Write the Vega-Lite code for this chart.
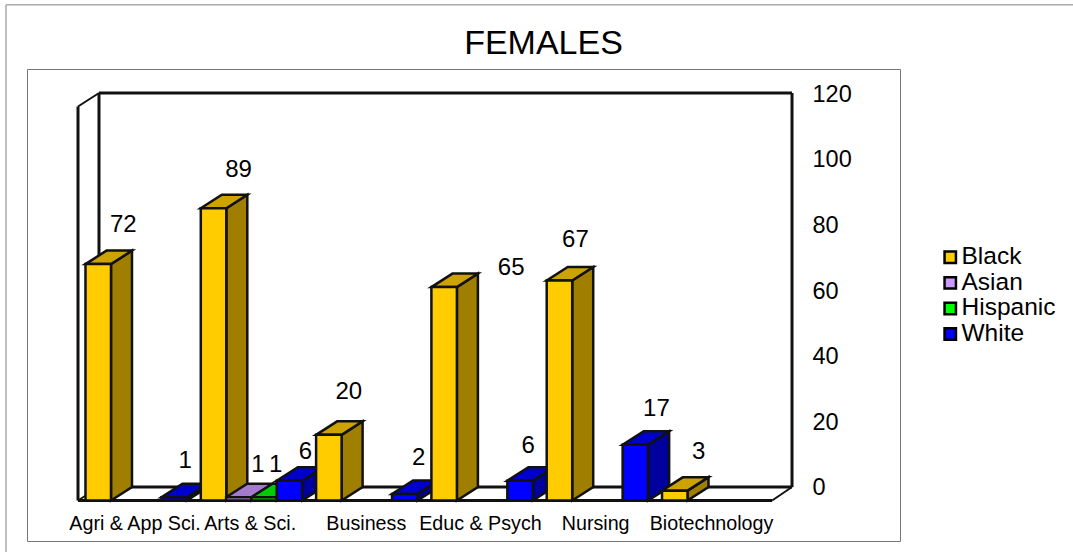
{
"$schema":"https://vega.github.io/schema/vega-lite/v6.json",
"width":873,"height":472,
"autosize":{"type":"none"},
"padding":{"left":27,"top":69,"right":173,"bottom":11},
"background":"white",
"view":{"stroke":"#777","strokeWidth":1,"fill":"white"},
"title":{"text":"FEMALES","fontSize":34,"font":"Liberation Sans","fontWeight":"normal","color":"#000","frame":"group","dx":80,"offset":-57},
"config":{"font":"Liberation Sans","axis":{"grid":false,"title":null}},
"datasets":{"bars":[
{"category":"Agri & App Sci.","series":"Black","value":72},
{"category":"Agri & App Sci.","series":"White","value":1},
{"category":"Arts & Sci.","series":"Black","value":89},
{"category":"Arts & Sci.","series":"Asian","value":1},
{"category":"Arts & Sci.","series":"Hispanic","value":1},
{"category":"Arts & Sci.","series":"White","value":6},
{"category":"Business","series":"Black","value":20},
{"category":"Business","series":"White","value":2},
{"category":"Educ & Psych","series":"Black","value":65},
{"category":"Educ & Psych","series":"White","value":6},
{"category":"Nursing","series":"Black","value":67},
{"category":"Nursing","series":"White","value":17},
{"category":"Biotechnology","series":"Black","value":3}
],"one":[{}]},
"layer":[
{"data":{"name":"one"},"mark":{"type":"rule","stroke":"#aaa","strokeWidth":1.5},"encoding":{
"x":{"datum":-0.6245,"type":"quantitative","scale":{"domain":[-0.4423,7.129]},"axis":{"orient":"bottom","offset":-28,"values":[0.49,1.489,2.496,3.486,4.485,5.49],"labelExpr":"['Agri & App Sci.','Arts & Sci.','Business','Educ & Psych','Nursing','Biotechnology'][floor(datum.value)]","labelFontSize":19.7,"labelColor":"#000","labelFont":"Liberation Sans","domain":false,"ticks":false,"labelAngle":0,"labelPadding":0,"labelOverlap":false,"labelFlush":false,"labelBound":false,"title":null}},
"x2":{"datum":8.63},
"y":{"datum":146.9,"type":"quantitative","scale":{"domain":[-16.45,127.32]},"axis":{"orient":"right","offset":-108,"values":[0,20,40,60,80,100,120],"labelFontSize":23.5,"labelColor":"#000","labelFont":"Liberation Sans","domain":false,"ticks":false,"labelPadding":20,"labelOffset":1,"title":null}},
"y2":{"datum":146.9}}},
{"data":{"name":"one"},"mark":{"type":"rule","stroke":"#aaa","strokeWidth":1.5},"encoding":{"x":{"datum":-0.6245,"type":"quantitative","scale":{"domain":[-0.4423,7.129]}},"x2":{"datum":-0.6245},"y":{"datum":146.9,"type":"quantitative","scale":{"domain":[-16.45,127.32]}},"y2":{"datum":-19.8}}},
{"data":{"name":"one"},"mark":{"type":"rule","stroke":"#111","strokeWidth":3},"encoding":{"x":{"datum":0.1821,"type":"quantitative","scale":{"domain":[-0.4423,7.129]}},"x2":{"datum":6.1925},"y":{"datum":120,"type":"quantitative","scale":{"domain":[-16.45,127.32]}},"y2":{"datum":120}}},
{"data":{"name":"one"},"mark":{"type":"rule","stroke":"#111","strokeWidth":3},"encoding":{"x":{"datum":6.1925,"type":"quantitative","scale":{"domain":[-0.4423,7.129]}},"x2":{"datum":6.1925},"y":{"datum":0,"type":"quantitative","scale":{"domain":[-16.45,127.32]}},"y2":{"datum":120}}},
{"data":{"name":"one"},"mark":{"type":"rule","stroke":"#111","strokeWidth":3},"encoding":{"x":{"datum":0.1821,"type":"quantitative","scale":{"domain":[-0.4423,7.129]}},"x2":{"datum":0.1821},"y":{"datum":0,"type":"quantitative","scale":{"domain":[-16.45,127.32]}},"y2":{"datum":120}}},
{"data":{"name":"one"},"mark":{"type":"rule","stroke":"#111","strokeWidth":3},"encoding":{"x":{"datum":0,"type":"quantitative","scale":{"domain":[-0.4423,7.129]}},"x2":{"datum":0},"y":{"datum":-4.11,"type":"quantitative","scale":{"domain":[-16.45,127.32]}},"y2":{"datum":115.89}}},
{"data":{"name":"one"},"mark":{"type":"rule","stroke":"#111","strokeWidth":2},"encoding":{"x":{"datum":0,"type":"quantitative","scale":{"domain":[-0.4423,7.129]}},"x2":{"datum":0.1821},"y":{"datum":115.89,"type":"quantitative","scale":{"domain":[-16.45,127.32]}},"y2":{"datum":120}}},
{"data":{"name":"one"},"mark":{"type":"rule","stroke":"#111","strokeWidth":3},"encoding":{"x":{"datum":0.1821,"type":"quantitative","scale":{"domain":[-0.4423,7.129]}},"x2":{"datum":6.1925},"y":{"datum":0,"type":"quantitative","scale":{"domain":[-16.45,127.32]}},"y2":{"datum":0}}},
{"data":{"name":"one"},"mark":{"type":"rule","stroke":"#111","strokeWidth":3},"encoding":{"x":{"datum":0,"type":"quantitative","scale":{"domain":[-0.4423,7.129]}},"x2":{"datum":6.02},"y":{"datum":-4.11,"type":"quantitative","scale":{"domain":[-16.45,127.32]}},"y2":{"datum":-4.11}}},
{"data":{"name":"one"},"mark":{"type":"rule","stroke":"#111","strokeWidth":2},"encoding":{"x":{"datum":6.02,"type":"quantitative","scale":{"domain":[-0.4423,7.129]}},"x2":{"datum":6.1925},"y":{"datum":-4.11,"type":"quantitative","scale":{"domain":[-16.45,127.32]}},"y2":{"datum":0}}},
{"data":{"name":"one"},"mark":{"type":"rule","stroke":"#111","strokeWidth":2},"encoding":{"x":{"datum":0,"type":"quantitative","scale":{"domain":[-0.4423,7.129]}},"x2":{"datum":0.1821},"y":{"datum":-4.11,"type":"quantitative","scale":{"domain":[-16.45,127.32]}},"y2":{"datum":0}}},
{"data":{"name":"bars"},
"transform":[
{"calculate":"indexof(['Agri & App Sci.','Arts & Sci.','Business','Educ & Psych','Nursing','Biotechnology'],datum.category)","as":"ci"},
{"calculate":"indexof(['Black','Asian','Hispanic','White'],datum.series)","as":"si"},
{"calculate":"datum.ci+0.065+datum.si*0.2195+0.2212","as":"xr"},
{"calculate":"[0,1]","as":"p"},{"flatten":["p"]},
{"calculate":"datum.xr+datum.p*0.1821","as":"xs"},
{"calculate":"-4.11+datum.p*4.11","as":"y0s"},
{"calculate":"datum.value-4.11+datum.p*4.11","as":"y1s"},
{"calculate":"datum.category+datum.series","as":"key"},
{"calculate":"{'Black':'#A07F00','Asian':'#7F5F9F','Hispanic':'#009F00','White':'#00009F'}[datum.series]","as":"faceColor"}
],
"mark":{"type":"area","stroke":"#111","strokeWidth":2.5,"strokeJoin":"miter","orient":"vertical"},
"encoding":{"x":{"field":"xs","type":"quantitative","scale":{"domain":[-0.4423,7.129]}},"y":{"field":"y1s","type":"quantitative","scale":{"domain":[-16.45,127.32]}},"y2":{"field":"y0s"},"detail":{"field":"key"},"fill":{"field":"faceColor","type":"nominal","scale":null,"legend":null}}},
{"data":{"name":"bars"},
"transform":[
{"calculate":"indexof(['Agri & App Sci.','Arts & Sci.','Business','Educ & Psych','Nursing','Biotechnology'],datum.category)","as":"ci"},
{"calculate":"indexof(['Black','Asian','Hispanic','White'],datum.series)","as":"si"},
{"calculate":"datum.ci+0.065+datum.si*0.2195","as":"xl"},
{"calculate":"[0,1]","as":"p"},{"flatten":["p"]},
{"calculate":"datum.xl+datum.p*0.1821","as":"xa"},
{"calculate":"datum.xl+0.2212+datum.p*0.1821","as":"xb"},
{"calculate":"datum.value-4.11+datum.p*4.11","as":"y1s"},
{"calculate":"datum.category+datum.series","as":"key"},
{"calculate":"{'Black':'#CCA300','Asian':'#A37ACC','Hispanic':'#00CC00','White':'#0000CC'}[datum.series]","as":"faceColor"}
],
"mark":{"type":"area","stroke":"#111","strokeWidth":2.5,"strokeJoin":"miter","orient":"horizontal"},
"encoding":{"y":{"field":"y1s","type":"quantitative","scale":{"domain":[-16.45,127.32]}},"x":{"field":"xa","type":"quantitative","scale":{"domain":[-0.4423,7.129]}},"x2":{"field":"xb"},"detail":{"field":"key"},"fill":{"field":"faceColor","type":"nominal","scale":null,"legend":null}}},
{"data":{"name":"bars"},
"transform":[
{"calculate":"indexof(['Agri & App Sci.','Arts & Sci.','Business','Educ & Psych','Nursing','Biotechnology'],datum.category)","as":"ci"},
{"calculate":"indexof(['Black','Asian','Hispanic','White'],datum.series)","as":"si"},
{"calculate":"datum.ci+0.065+datum.si*0.2195","as":"xl"},
{"calculate":"datum.xl+0.2212","as":"xr"},
{"calculate":"datum.value-4.11","as":"yt"},
{"calculate":"-4.11","as":"yb"}
],
"mark":{"type":"rect","stroke":"#111","strokeWidth":2.5},
"encoding":{
"x":{"field":"xl","type":"quantitative","scale":{"domain":[-0.4423,7.129]}},
"x2":{"field":"xr"},
"y":{"field":"yt","type":"quantitative","scale":{"domain":[-16.45,127.32]}},
"y2":{"field":"yb"},
"color":{"field":"series","type":"nominal","title":null,"scale":{"domain":["Black","Asian","Hispanic","White"],"range":["#FFCC00","#CC99FF","#00FF00","#0000FF"]},"legend":{"orient":"none","legendX":911,"legendY":176,"symbolType":"square","symbolSize":130,"symbolStrokeColor":"#000","symbolStrokeWidth":2.5,"labelFontSize":24.5,"labelColor":"#000","labelFont":"Liberation Sans","labelOffset":-1,"rowPadding":0.6,"labelLimit":200,"title":null}}
}},
{"data":{"name":"bars"},
"transform":[
{"calculate":"indexof(['Agri & App Sci.','Arts & Sci.','Business','Educ & Psych','Nursing','Biotechnology'],datum.category)","as":"ci"},
{"calculate":"indexof(['Black','Asian','Hispanic','White'],datum.series)","as":"si"},
{"calculate":"{'00':[4,-26.6],'03':[-10,-23.7],'10':[4,-26],'11':[-2,-20],'12':[-9.5,-20],'13':[-5,-16],'20':[-1,-30],'23':[-7,-23],'30':[46,-6.6],'33':[-13,-22],'40':[-5,-28],'43':[0,-23],'50':[3,-26]}[''+datum.ci+datum.si]","as":"nudge"},
{"calculate":"datum.ci+0.065+datum.si*0.2195+0.1106+0.1821+datum.nudge[0]/115.3","as":"lx"},
{"calculate":"datum.value-datum.nudge[1]/3.283","as":"ly"}
],
"mark":{"type":"text","fontSize":24,"font":"Liberation Sans","color":"#000","align":"center","baseline":"middle","dy":1},
"encoding":{"x":{"field":"lx","type":"quantitative","scale":{"domain":[-0.4423,7.129]}},"y":{"field":"ly","type":"quantitative","scale":{"domain":[-16.45,127.32]}},"text":{"field":"value","type":"quantitative"}}}
]
}
